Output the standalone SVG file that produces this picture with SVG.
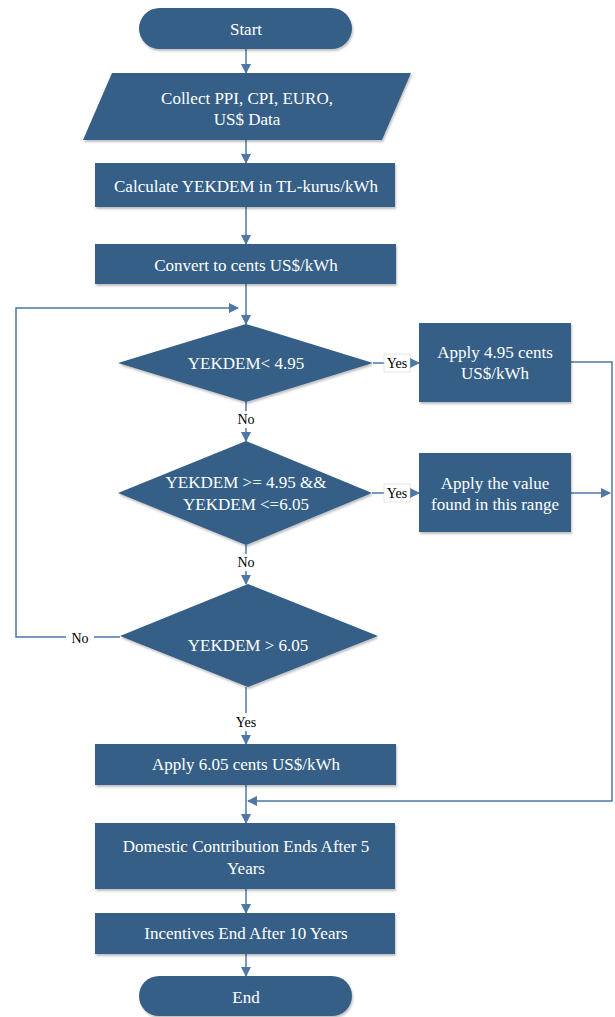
<svg xmlns="http://www.w3.org/2000/svg" width="615" height="1017" viewBox="0 0 615 1017">
<style>
.n{fill:#365f86;filter:url(#sh)}
.t{font-family:'Liberation Serif','DejaVu Serif',serif;font-size:17px;fill:#ffffff;text-anchor:middle;dominant-baseline:central}
.l{font-family:'Liberation Serif','DejaVu Serif',serif;font-size:14px;fill:#000;text-anchor:middle;dominant-baseline:central}
.c{fill:none;stroke:#4d78a4;stroke-width:1.5}
.a{marker-end:url(#ah)}
.lb{fill:#fff}
</style>
<defs>
<filter id="sh" x="-10%" y="-10%" width="120%" height="130%">
<feDropShadow dx="1" dy="2" stdDeviation="1.2" flood-color="#000" flood-opacity="0.25"/>
</filter>
<marker id="ah" markerWidth="10" markerHeight="10" refX="9" refY="5" orient="auto" markerUnits="userSpaceOnUse">
<path d="M0,0 L10,5 L0,10 Z" fill="#4d78a4"/>
</marker>
</defs>
<g id="connectors">
<path class="c a" d="M246,49 V73"/>
<path class="c a" d="M246,140 V163"/>
<path class="c a" d="M246,207 V244"/>
<path class="c a" d="M246,284 V324"/>
<path class="c a" d="M120,637 H16 V308 H238"/>
<path class="c a" d="M373,363 H419"/>
<path class="c a" d="M246,402 V441"/>
<path class="c a" d="M372,493 H419"/>
<path class="c a" d="M246,545 V584"/>
<path class="c a" d="M246,687 V744"/>
<path class="c a" d="M571,362 H612 V801 H248"/>
<path class="c a" d="M571,493 H610"/>
<path class="c a" d="M246,785 V823"/>
<path class="c a" d="M246,889 V913"/>
<path class="c a" d="M246,954 V976"/>
<rect class="lb" x="66" y="628" width="28" height="18"/>
<text class="l" x="80" y="638" font-family="Liberation Serif">No</text>
<rect class="lb" x="384" y="354" width="26" height="18" stroke="#ccc" stroke-width="0.5"/>
<text class="l" x="397" y="363" font-family="Liberation Serif">Yes</text>
<rect class="lb" x="384" y="484" width="26" height="18" stroke="#ccc" stroke-width="0.5"/>
<text class="l" x="397" y="493" font-family="Liberation Serif">Yes</text>
<rect class="lb" x="234" y="411" width="24" height="17"/>
<text class="l" x="246" y="419" font-family="Liberation Serif">No</text>
<rect class="lb" x="234" y="554" width="24" height="17"/>
<text class="l" x="246" y="562" font-family="Liberation Serif">No</text>
<rect class="lb" x="231" y="713" width="30" height="18"/>
<text class="l" x="246" y="722" font-family="Liberation Serif">Yes</text>
</g>
<g id="start">
<rect class="n" x="139" y="8" width="213" height="41" rx="20.5"/>
<text class="t" x="246" y="29" font-family="Liberation Serif">Start</text>
</g>
<g id="collect">
<polygon class="n" points="112,73 411,73 382,140 83,140"/>
<text class="t" x="247" y="98" font-family="Liberation Serif">Collect PPI, CPI, EURO,</text>
<text class="t" x="247" y="119" font-family="Liberation Serif">US$ Data</text>
</g>
<g id="calculate">
<rect class="n" x="95" y="163" width="300" height="44"/>
<text class="t" x="246" y="186" font-family="Liberation Serif">Calculate YEKDEM in TL-kurus/kWh</text>
</g>
<g id="convert">
<rect class="n" x="95" y="244" width="301" height="40"/>
<text class="t" x="246" y="265" font-family="Liberation Serif">Convert to cents US$/kWh</text>
</g>
<g id="d1">
<polygon class="n" points="246,324 373,363 246,402 118,363"/>
<text class="t" x="246" y="363" font-family="Liberation Serif">YEKDEM&lt; 4.95</text>
</g>
<g id="apply495">
<rect class="n" x="419" y="323" width="152" height="79"/>
<text class="t" x="495" y="352" font-family="Liberation Serif">Apply 4.95 cents</text>
<text class="t" x="495" y="373" font-family="Liberation Serif">US$/kWh</text>
</g>
<g id="d2">
<polygon class="n" points="246,441 372,493 246,545 118,493"/>
<text class="t" x="246" y="482" font-family="Liberation Serif">YEKDEM &gt;= 4.95 &amp;&amp;</text>
<text class="t" x="246" y="504" font-family="Liberation Serif">YEKDEM &lt;=6.05</text>
</g>
<g id="applyrange">
<rect class="n" x="419" y="453" width="152" height="79"/>
<text class="t" x="495" y="483" font-family="Liberation Serif">Apply the value</text>
<text class="t" x="495" y="504" font-family="Liberation Serif">found in this range</text>
</g>
<g id="d3">
<polygon class="n" points="248,584 378,636 248,687 120,636"/>
<text class="t" x="248" y="645" font-family="Liberation Serif">YEKDEM &gt; 6.05</text>
</g>
<g id="apply605">
<rect class="n" x="95" y="744" width="301" height="41"/>
<text class="t" x="246" y="764" font-family="Liberation Serif">Apply 6.05 cents US$/kWh</text>
</g>
<g id="domestic">
<rect class="n" x="95" y="823" width="300" height="66"/>
<text class="t" x="246" y="846" font-family="Liberation Serif">Domestic Contribution Ends After 5</text>
<text class="t" x="246" y="868" font-family="Liberation Serif">Years</text>
</g>
<g id="incentives">
<rect class="n" x="95" y="913" width="300" height="41"/>
<text class="t" x="246" y="933" font-family="Liberation Serif">Incentives End After 10 Years</text>
</g>
<g id="end">
<rect class="n" x="139" y="976" width="213" height="40" rx="20"/>
<text class="t" x="246" y="997" font-family="Liberation Serif">End</text>
</g>
</svg>
